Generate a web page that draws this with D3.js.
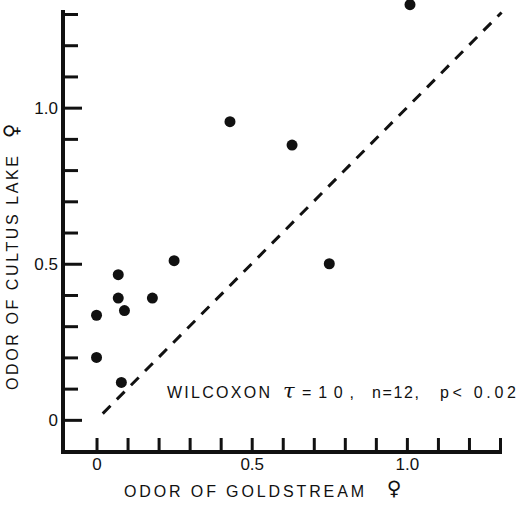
<!DOCTYPE html>
<html>
<head>
<meta charset="utf-8">
<script src="https://d3js.org/d3.v7.min.js"></script>
<style>
  body { margin: 0; background: #fff; }
  text { font-family: "Liberation Sans", "DejaVu Sans", sans-serif; fill: #111; }
</style>
</head>
<body>
<script>
// odor values: goldstream (x) vs cultus lake (y)
var goldstream = [1.01, 0.43, 0.63, 0.75, 0.25, 0.07, 0.07, 0.18, 0.09, 0.00, 0.00, 0.08];
var cultus     = [1.33, 0.955, 0.88, 0.50, 0.51, 0.465, 0.39, 0.39, 0.35, 0.335, 0.20, 0.12];
var tickVals = d3.range(0, 14).map(function(i) { return i / 10; });
var majorTicks = [0, 0.5, 1.0];
var equalLine = [0.02, 1.305];
var annotation = ["WILCOXON", "\u03c4", "=10,", "n=12,", "p< 0.02"];

var width = 520, height = 508;

var svg = d3.select("body").append("svg")
    .attr("width", width)
    .attr("height", height);

var x = d3.scaleLinear().domain([-0.108, 1.3]).range([63, 500]),
    y = d3.scaleLinear().domain([-0.103, 1.3]).range([452, 14]);

function isMajor(d) { return majorTicks.some(function(m) { return Math.abs(m - d) < 1e-6; }); }
function fmt(d) { return d === 0 ? "0" : d3.format(".1f")(d); }

// y axis
var yAxis = d3.axisLeft(y).tickValues(tickVals).tickSize(-15).tickSizeOuter(0)
    .tickFormat(function(d) { return isMajor(d) ? fmt(d) : ""; });
var gy = svg.append("g").attr("transform", "translate(" + x.range()[0] + ",0)").call(yAxis);
gy.select(".domain").remove();
gy.selectAll(".tick line")
    .attr("stroke", "#111").attr("stroke-width", 3)
    .attr("x2", function(d) { return isMajor(d) ? 19 : 15; });
gy.selectAll(".tick text").attr("x", -5).style("font-size", "17px").attr("fill", "#111");

// x axis
var xAxis = d3.axisBottom(x).tickValues(tickVals).tickSize(-14).tickSizeOuter(0)
    .tickFormat(function(d) { return isMajor(d) ? fmt(d) : ""; });
var gx = svg.append("g").attr("transform", "translate(0," + y.range()[0] + ")").call(xAxis);
gx.select(".domain").remove();
gx.selectAll(".tick line").attr("stroke", "#111").attr("stroke-width", 3);
gx.selectAll(".tick text").attr("y", 6).style("font-size", "17px").attr("fill", "#111");

// heavy axis lines
svg.append("line")
    .attr("x1", x.range()[0]).attr("x2", x.range()[0])
    .attr("y1", y.range()[0] + 2).attr("y2", y.range()[1] - 4)
    .attr("stroke", "#111").attr("stroke-width", 4);
svg.append("line")
    .attr("x1", x.range()[0] - 2).attr("x2", x.range()[1] + 2)
    .attr("y1", y.range()[0]).attr("y2", y.range()[0])
    .attr("stroke", "#111").attr("stroke-width", 4);

// line of equality
svg.append("line")
    .attr("x1", x(equalLine[0])).attr("y1", y(equalLine[0]))
    .attr("x2", x(equalLine[1])).attr("y2", y(equalLine[1]))
    .attr("stroke", "#111").attr("stroke-width", 3)
    .attr("stroke-dasharray", "11,9");

// dots
svg.selectAll(".dot")
    .data(goldstream.map(function(g, i) { return {gx: g, cy: cultus[i]}; }))
  .enter().append("circle")
    .attr("class", "dot")
    .attr("r", 5.5)
    .attr("cx", function(d) { return x(d.gx); })
    .attr("cy", function(d) { return y(d.cy); })
    .attr("fill", "#111");

// axis titles
svg.append("text")
    .attr("x", 124).attr("y", 497)
    .attr("textLength", 240).attr("lengthAdjust", "spacing")
    .style("font-size", "16px")
    .text("ODOR OF GOLDSTREAM");
svg.append("text")
    .attr("x", 394).attr("y", 495)
    .attr("text-anchor", "middle")
    .style("font-family", "DejaVu Sans").style("font-size", "20px")
    .text("\u2640");

svg.append("text")
    .attr("transform", "translate(18,390) rotate(-90)")
    .attr("textLength", 234).attr("lengthAdjust", "spacing")
    .style("font-size", "16px")
    .text("ODOR OF CULTUS LAKE");
svg.append("text")
    .attr("transform", "translate(18,131) rotate(-90)")
    .attr("text-anchor", "middle")
    .style("font-family", "DejaVu Sans").style("font-size", "20px")
    .text("\u2640");

// test annotation
var ann = svg.append("g").style("font-size", "16px");
ann.append("text").attr("x", 167).attr("y", 398)
    .attr("textLength", 103).attr("lengthAdjust", "spacing").text(annotation[0]);
ann.append("text").attr("x", 283).attr("y", 398)
    .style("font-family", "DejaVu Serif").style("font-style", "italic").style("font-size", "21px").text(annotation[1]);
ann.append("text").attr("x", 302).attr("y", 398)
    .attr("textLength", 52).attr("lengthAdjust", "spacing").text(annotation[2]);
ann.append("text").attr("x", 372).attr("y", 398)
    .attr("textLength", 47).attr("lengthAdjust", "spacing").text(annotation[3]);
ann.append("text").attr("x", 440).attr("y", 398)
    .attr("textLength", 76).attr("lengthAdjust", "spacing").text(annotation[4]);
</script>
</body>
</html>
